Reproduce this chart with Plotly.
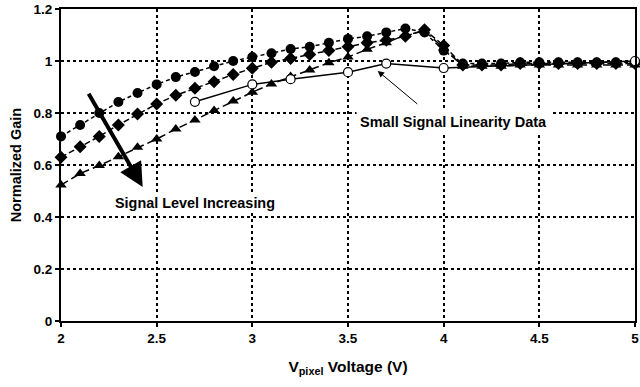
import plotly.graph_objects as go

x_all = [round(2.0 + 0.1 * i, 1) for i in range(31)]

gain_circle = [0.71, 0.754, 0.80, 0.842, 0.877, 0.91, 0.938, 0.958, 0.98, 1.0,
               1.015, 1.03, 1.046, 1.055, 1.07, 1.085, 1.095, 1.11, 1.125, 1.11,
               1.04, 0.99, 0.99, 0.99, 0.995, 0.995, 0.995, 0.995, 0.995, 0.995, 0.995]
gain_diamond = [0.63, 0.67, 0.71, 0.754, 0.796, 0.835, 0.868, 0.895, 0.92, 0.948,
                0.972, 0.995, 1.01, 1.025, 1.04, 1.055, 1.07, 1.08, 1.095, 1.12,
                1.06, 0.985, 0.985, 0.985, 0.99, 0.99, 0.99, 0.99, 0.99, 0.99, 0.99]
gain_triangle = [0.523, 0.567, 0.598, 0.632, 0.668, 0.70, 0.738, 0.773, 0.81, 0.846,
                 0.88, 0.912, 0.94, 0.965, 0.993, 1.015, 1.045, 1.07, 1.10, 1.115,
                 1.05, 0.98, 0.98, 0.98, 0.985, 0.985, 0.985, 0.985, 0.985, 0.985, 0.985]

x_small = [2.7, 3.0, 3.2, 3.5, 3.7, 4.0, 5.0]
gain_small = [0.843, 0.91, 0.93, 0.957, 0.99, 0.973, 1.0]

x_ticks = [2, 2.5, 3, 3.5, 4, 4.5, 5]
x_tick_text = ["2", "2.5", "3", "3.5", "4", "4.5", "5"]
y_ticks = [0, 0.2, 0.4, 0.6, 0.8, 1.0, 1.2]
y_tick_text = ["0", "0.2", "0.4", "0.6", "0.8", "1", "1.2"]

FONT = "Liberation Sans, Arial, sans-serif"

fig = go.Figure()
fig.add_trace(go.Scatter(x=x_all, y=gain_circle, mode="lines+markers",
                         line=dict(color="black", width=1.5, dash="4px,3px"),
                         marker=dict(symbol="circle", size=10, color="black"),
                         cliponaxis=False, showlegend=False))
fig.add_trace(go.Scatter(x=x_all, y=gain_diamond, mode="lines+markers",
                         line=dict(color="black", width=1.5, dash="6px,3px"),
                         marker=dict(symbol="diamond", size=10, color="black"),
                         cliponaxis=False, showlegend=False))
fig.add_trace(go.Scatter(x=x_all, y=gain_triangle, mode="lines+markers",
                         line=dict(color="black", width=1.5, dash="8px,4px"),
                         marker=dict(symbol="triangle-up", size=10, color="black"),
                         cliponaxis=False, showlegend=False))
fig.add_trace(go.Scatter(x=x_small, y=gain_small, mode="lines+markers",
                         line=dict(color="black", width=1.5),
                         marker=dict(symbol="circle", size=9, color="white",
                                     line=dict(color="black", width=1.2)),
                         cliponaxis=False, showlegend=False))

fig.add_annotation(x=2.427, y=0.515, ax=2.14, ay=0.88, xref="x", yref="y",
                   axref="x", ayref="y", showarrow=True, arrowhead=2,
                   arrowsize=1.2, arrowwidth=4, arrowcolor="black", text="")
fig.add_annotation(x=2.70, y=0.454, xref="x", yref="y", showarrow=False,
                   text="<b>Signal Level Increasing</b>", bgcolor="white",
                   font=dict(family=FONT, size=14.4, color="black"))
fig.add_annotation(x=3.655, y=0.962, ax=3.87, ay=0.83, xref="x", yref="y",
                   axref="x", ayref="y", showarrow=True, arrowhead=2,
                   arrowsize=1.3, arrowwidth=1, arrowcolor="black", text="",
                   standoff=0)
fig.add_annotation(x=4.05, y=0.765, xref="x", yref="y", showarrow=False,
                   text="<b>Small Signal Linearity Data</b>", bgcolor="white",
                   borderpad=3,
                   font=dict(family=FONT, size=14.5, color="black"))

fig.update_xaxes(range=[2, 5], tickvals=x_ticks, ticktext=x_tick_text,
                 automargin=False, ticklabeloverflow="allow",
                 showgrid=True, gridcolor="black", griddash="dot", gridwidth=1.5,
                 showline=True, linecolor="black", linewidth=2, mirror=True,
                 ticks="outside", ticklen=4, tickwidth=2, tickcolor="black",
                 zeroline=False,
                 tickfont=dict(family=FONT, size=13.5, color="black", weight="bold"),
                 title=dict(text="<b>V<sub>pixel</sub> Voltage (V)</b>", standoff=16,
                            font=dict(family=FONT, size=15.5, color="black")))
fig.update_yaxes(range=[0, 1.2], tickvals=y_ticks, ticktext=y_tick_text,
                 automargin=False, ticklabeloverflow="allow",
                 showgrid=True, gridcolor="black", griddash="dot", gridwidth=1.5,
                 showline=True, linecolor="black", linewidth=2, mirror=True,
                 ticks="outside", ticklen=4, tickwidth=2, tickcolor="black",
                 zeroline=False,
                 tickfont=dict(family=FONT, size=13.5, color="black", weight="bold"),
                 title=dict(text="<b>Normalized Gain</b>", standoff=8,
                            font=dict(family=FONT, size=14.5, color="black")))

fig.update_layout(width=640, height=387, plot_bgcolor="white", paper_bgcolor="white",
                  margin=dict(l=61, r=5, t=9, b=66), showlegend=False)

fig.write_html("out.html")
